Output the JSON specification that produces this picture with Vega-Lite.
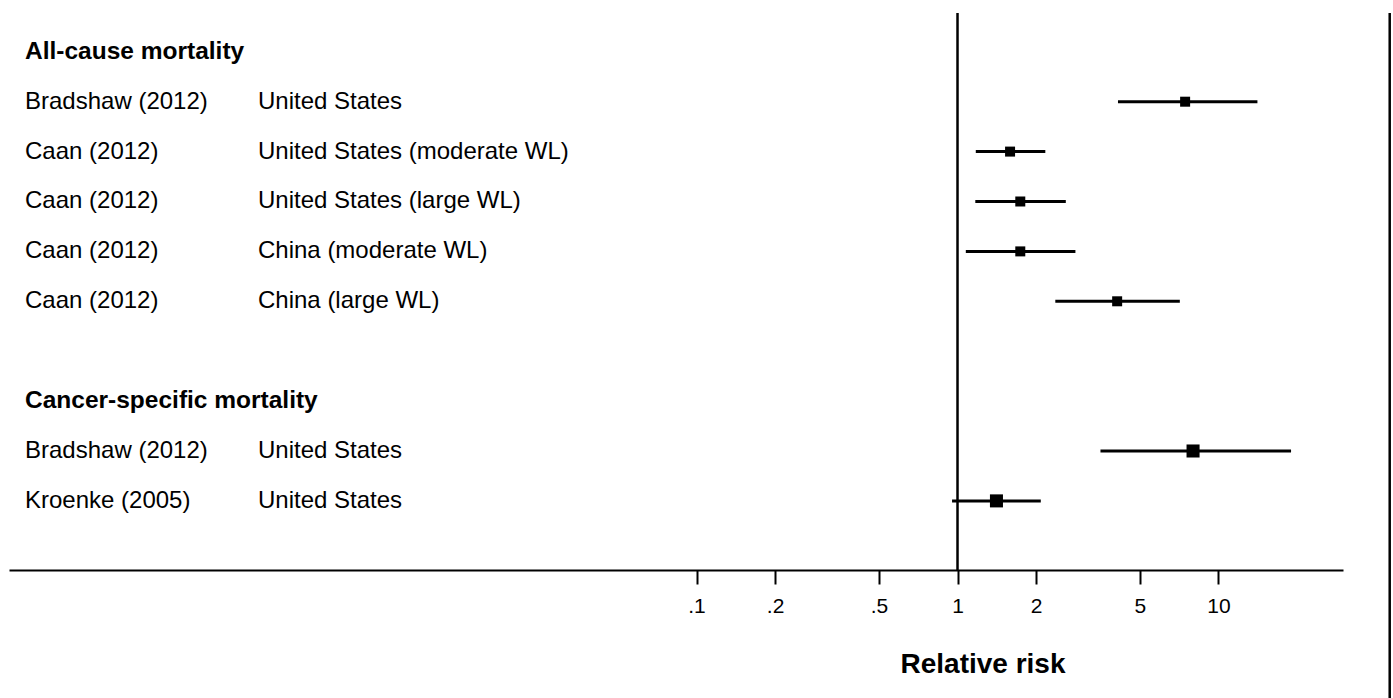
{
  "$schema": "https://vega.github.io/schema/vega-lite/v6.json",
  "width": 1334,
  "height": 570,
  "autosize": {"type": "none"},
  "padding": {"left": 9, "top": 0, "right": 50, "bottom": 128},
  "background": "white",
  "config": {"view": {"stroke": null}, "font": "Liberation Sans"},
  "datasets": {
    "studies": [
      {"row": 1, "group": "All-cause mortality", "study": "Bradshaw (2012)", "country": "United States", "rr": 7.45, "lo": 4.12, "hi": 14.1},
      {"row": 2, "group": "All-cause mortality", "study": "Caan (2012)", "country": "United States (moderate WL)", "rr": 1.59, "lo": 1.175, "hi": 2.17},
      {"row": 3, "group": "All-cause mortality", "study": "Caan (2012)", "country": "United States (large WL)", "rr": 1.74, "lo": 1.17, "hi": 2.6},
      {"row": 4, "group": "All-cause mortality", "study": "Caan (2012)", "country": "China (moderate WL)", "rr": 1.74, "lo": 1.076, "hi": 2.83},
      {"row": 5, "group": "All-cause mortality", "study": "Caan (2012)", "country": "China (large WL)", "rr": 4.09, "lo": 2.37, "hi": 7.11},
      {"row": 8, "group": "Cancer-specific mortality", "study": "Bradshaw (2012)", "country": "United States", "rr": 7.99, "lo": 3.53, "hi": 18.97},
      {"row": 9, "group": "Cancer-specific mortality", "study": "Kroenke (2005)", "country": "United States", "rr": 1.41, "lo": 0.953, "hi": 2.085}
    ],
    "headers": [
      {"row": 0, "label": "All-cause mortality"},
      {"row": 7, "label": "Cancer-specific mortality"}
    ]
  },
  "resolve": {"scale": {"x": "independent", "size": "independent"}},
  "layer": [
    {
      "data": {"values": [{}]},
      "mark": {"type": "rule", "color": "black", "strokeWidth": 2.5},
      "encoding": {
        "x": {"datum": 1, "type": "quantitative", "scale": {"type": "log", "domain": [0.000232, 30], "nice": false}, "axis": null},
        "y": {"datum": -0.778, "type": "quantitative", "scale": {"domain": [-1.038, 10.385], "reverse": true, "nice": false, "zero": false}, "axis": null},
        "y2": {"datum": 10.385}
      }
    },
    {
      "data": {"values": [{}]},
      "mark": {"type": "rule", "color": "black", "strokeWidth": 2.5, "clip": false},
      "encoding": {
        "x": {"datum": 45.3, "type": "quantitative", "scale": {"type": "log", "domain": [0.000232, 30], "nice": false}, "axis": null},
        "y": {"datum": -0.778, "type": "quantitative", "scale": {"domain": [-1.038, 10.385], "reverse": true, "nice": false, "zero": false}, "axis": null},
        "y2": {"datum": 12.95}
      }
    },
    {
      "data": {"name": "studies"},
      "mark": {"type": "rule", "color": "black", "strokeWidth": 3},
      "encoding": {
        "x": {"field": "lo", "type": "quantitative", "scale": {"type": "log", "domain": [0.000232, 30], "nice": false}, "axis": null},
        "x2": {"field": "hi"},
        "y": {"field": "row", "type": "quantitative", "scale": {"domain": [-1.038, 10.385], "reverse": true, "nice": false, "zero": false}, "axis": null}
      }
    },
    {
      "data": {"name": "studies"},
      "mark": {"type": "square", "color": "black", "filled": true, "opacity": 1},
      "encoding": {
        "x": {
          "field": "rr",
          "type": "quantitative",
          "scale": {"type": "log", "domain": [0.000232, 30], "nice": false},
          "axis": {
            "values": [0.1, 0.2, 0.5, 1, 2, 5, 10],
            "labelExpr": "datum.value < 1 ? '.' + round(datum.value * 10) : '' + datum.value",
            "grid": false,
            "ticks": true,
            "domain": true,
            "domainColor": "black",
            "domainWidth": 2,
            "tickColor": "black",
            "tickOpacity": 1,
            "tickWidth": 2,
            "tickSize": 14,
            "labelColor": "black",
            "labelFontSize": 21,
            "labelFont": "Liberation Sans",
            "labelPadding": 11,
            "labelFlush": false,
            "labelOverlap": false,
            "title": "Relative risk",
            "titleFont": "Liberation Sans",
            "titleFontSize": 28,
            "titleFontWeight": "bold",
            "titleColor": "black",
            "titleX": 973.5,
            "titleY": 102,
            "titleAlign": "center",
            "titleBaseline": "alphabetic"
          }
        },
        "y": {"field": "row", "type": "quantitative", "scale": {"domain": [-1.038, 10.385], "reverse": true, "nice": false, "zero": false}, "axis": null},
        "size": {"field": "group", "type": "nominal", "scale": {"domain": ["All-cause mortality", "Cancer-specific mortality"], "range": [100, 170]}, "legend": null}
      }
    },
    {
      "data": {"name": "studies"},
      "transform": [{"fold": ["study", "country"], "as": ["col", "label"]}],
      "mark": {"type": "text", "align": "left", "baseline": "middle", "fontSize": 24, "font": "Liberation Sans", "color": "black"},
      "encoding": {
        "x": {"field": "col", "type": "nominal", "scale": {"type": "point", "domain": ["study", "country"], "range": [16, 249], "padding": 0}, "axis": null},
        "y": {"field": "row", "type": "quantitative", "scale": {"domain": [-1.038, 10.385], "reverse": true, "nice": false, "zero": false}, "axis": null},
        "text": {"field": "label"}
      }
    },
    {
      "data": {"name": "headers"},
      "mark": {"type": "text", "align": "left", "baseline": "middle", "fontSize": 24.5, "fontWeight": "bold", "font": "Liberation Sans", "color": "black"},
      "encoding": {
        "x": {"datum": "study", "type": "nominal", "scale": {"type": "point", "domain": ["study", "country"], "range": [16, 249], "padding": 0}, "axis": null},
        "y": {"field": "row", "type": "quantitative", "scale": {"domain": [-1.038, 10.385], "reverse": true, "nice": false, "zero": false}, "axis": null},
        "text": {"field": "label"}
      }
    }
  ]
}
